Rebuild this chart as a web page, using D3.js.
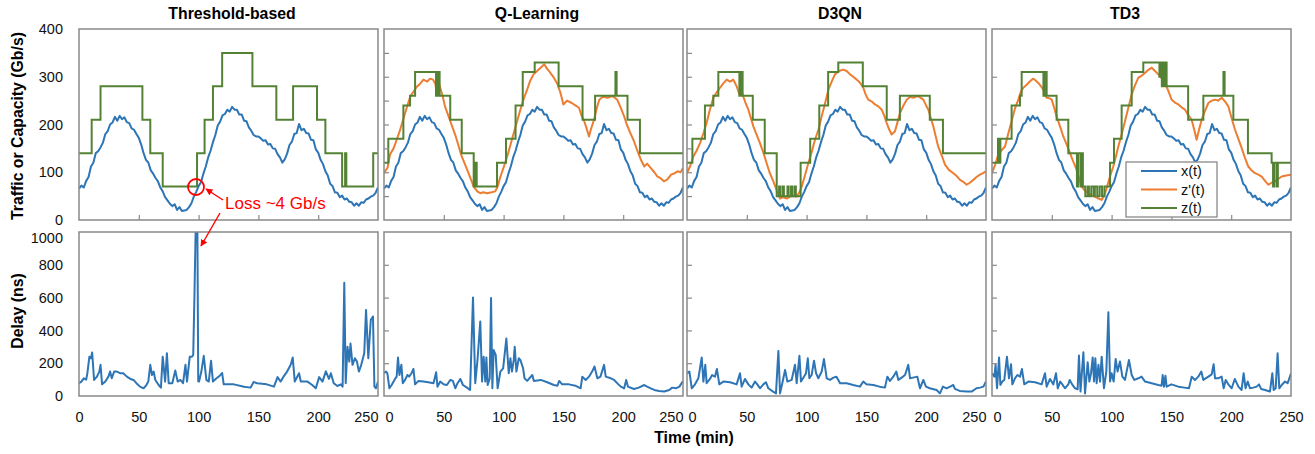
<!DOCTYPE html>
<html><head><meta charset="utf-8">
<script src="https://cdn.jsdelivr.net/npm/d3@7"></script>
<style>
body{margin:0;background:#fff;}
text{font-family:"Liberation Sans",Arial,sans-serif;}
</style></head>
<body>
<script>
// ---------- DATA ----------
const methods = ["Threshold-based","Q-Learning","D3QN","TD3"];
const timeTicks = [0,50,100,150,200,250];
const trafficTicks = [0,100,200,300,400];
const delayTicks = [0,200,400,600,800,1000];
const legendLabels = ["x(t)","z'(t)","z(t)"];
const annotationText = "Loss ~4 Gb/s";

// x(t) traffic, one value every 2 minutes (t = 0..250)
const trafficStep = 2;
const traffic = [66,72,68,82,90,112,120,140,144,152,162,180,186,200,204,216,208,218,211,215,
205,203,192,189,180,172,158,140,126,120,104,97,88,81,68,60,48,41,34,29,
33,21,27,19,20,21,27,35,49,59,71,79,97,112,131,145,163,178,198,206,
219,222,231,227,237,231,231,221,221,208,207,194,187,178,175,175,171,166,167,158,
159,150,149,138,131,120,127,139,157,164,180,182,201,188,191,182,181,168,167,148,
141,126,117,102,93,76,71,58,57,48,51,43,45,38,37,30,35,30,37,36,
43,45,49,51,57,68];

// z'(t) predicted demand [t, value]
const zPrimeQL = [[0,98],[3,110],[5,137],[8,150],[10.6,168],[13,185],[16,210],[19,235],[22,259],[25,270],[27.4,279],[30,285],[33,294],[36,290],[38.6,296],[41,294],[43,285],[44,263],[45.5,290],[47,277],[49,260],[51,238],[55,210],[60,175],[65,133],[70.7,98],[75,70],[78,60],[80.5,56],[83,58],[86,56],[90,58],[93,60],[95,70],[97,88],[100,110],[103,133],[108.5,182],[114,231],[117,255],[119.7,273],[122,290],[125,305],[128,312],[131,319],[134,326],[136,318],[138,312],[140,305],[142,298],[145,285],[147.6,266],[150,242],[153,250],[157,245],[160,240],[163,235],[165,220],[167,210],[169,195],[171.4,175],[173,190],[175.6,210],[178,235],[180,252],[183,258],[187,256],[191,260],[195,252],[198,235],[200.8,217],[203,200],[206,182],[209,165],[212,144],[215,125],[217.6,112],[220,118],[223,109],[226,100],[228.7,91],[231,88],[234,81],[237,85],[240,95],[243,98],[245.5,102],[248,100],[250,109]];
const zPrimeD3QN = [[0,98],[2.5,112],[5.3,133],[8,145],[10.9,161],[13.5,180],[16.4,203],[19,230],[22,256],[25,268],[27.6,277],[30,285],[33.2,294],[36,290],[38.7,294],[41.5,280],[43.8,263],[45,275],[47,259],[49,245],[51.3,231],[55.5,196],[58,180],[61,161],[64,140],[66.6,119],[69,100],[72.2,81],[75,62],[77.8,45],[80,48],[83.3,45],[87,50],[91.7,49],[94,58],[95.9,70],[98.5,92],[101.4,119],[104,140],[107,168],[110,190],[112.6,217],[115.5,245],[118.2,273],[121,290],[123.7,305],[127,312],[130.7,315],[133.5,312],[136.3,305],[139,300],[141.9,294],[144.5,288],[147.4,277],[149.5,262],[151.6,252],[154.5,248],[157.2,242],[160,238],[162.8,231],[165,218],[167,203],[169,190],[171.1,179],[173.9,186],[176,205],[178.1,224],[181,240],[183.7,252],[186.5,258],[189.2,256],[193,260],[197.6,252],[199.5,242],[201.8,231],[204,212],[206,196],[208,175],[210,154],[213,135],[215.7,116],[219,105],[222.7,98],[225.5,92],[228.3,84],[231,80],[233.8,74],[236.5,78],[239.4,84],[242,90],[245,95],[247.5,98],[250,102]];
const zPrimeTD3 = [[0,98],[2.5,115],[5.3,137],[8,146],[10.9,154],[13.5,180],[16.4,207],[19,232],[22,252],[24,268],[26.2,277],[28.5,282],[30.4,287],[32.5,292],[34.6,296],[36.5,292],[38.7,287],[41,280],[42.9,273],[44.3,262],[45.7,256],[48,255],[49.9,252],[52,235],[54,217],[57,195],[59.6,175],[62.5,158],[65.2,140],[68,122],[70.8,105],[73,86],[75,70],[77.5,62],[80.5,56],[83,52],[86.1,49],[89,45],[91.7,42],[94,52],[95.9,67],[98.5,90],[101.4,112],[103.5,132],[105.6,154],[108.5,180],[111.2,207],[114,235],[116.8,263],[119.5,282],[122.4,298],[125,302],[127.9,308],[130.5,314],[133.5,319],[136.3,312],[139.1,305],[142,296],[144.6,287],[147.5,270],[150.2,252],[153,246],[155.8,242],[158.5,236],[161.4,231],[164,220],[166.9,210],[169,190],[171.1,168],[173,188],[175.3,210],[178,228],[180.9,245],[183.7,250],[186.5,252],[189,250],[192,256],[195,248],[197.6,238],[200.5,212],[203.2,189],[206,170],[208.7,151],[211.5,130],[214.3,112],[217,104],[219.9,98],[222.7,95],[225.5,91],[228.3,82],[231,74],[233.8,78],[236.6,81],[239.4,86],[242.2,91],[246,93],[250,95]];

// z(t) allocated capacity, step change points [t, value]
const zThreshold = [[0,140],[10.6,210],[18,280],[53,210],[59.6,140],[70,70],[98.7,140],[105,210],[112,280],[119.7,350],[145,280],[165,210],[179,280],[199,210],[206,140],[220,70],[222.5,140],[223.5,70],[246,140],[250,140]];
const zQL = [[0,120],[3.6,170],[16.2,240],[21.8,260],[26,310],[43.5,260],[45,310],[46.5,260],[55.4,210],[65,140],[75,70],[76.5,120],[77.5,70],[94.5,120],[102,170],[110,240],[116,310],[126,330],[146,280],[166,210],[176.5,260],[193.5,310],[194.5,260],[203.6,210],[214,140],[250,140]];
const zD3QN = [[0,120],[4.5,170],[15,240],[22,260],[26.2,310],[43.8,260],[44.8,310],[46.5,260],[55,210],[65,140],[75,50],[77,70],[78,50],[80,70],[81,50],[84,70],[85,50],[87,70],[88,50],[90,70],[91,50],[95,120],[103,170],[110.6,240],[118,310],[126.5,330],[147,280],[167,210],[178,260],[203,210],[214,140],[250,140]];
const zTD3 = [[0,120],[5,170],[6,120],[7,170],[16.4,240],[23.4,260],[24.8,310],[43,260],[44,310],[45.7,260],[54,210],[63.8,140],[71,70],[72,140],[74,70],[75,140],[76,70],[78,50],[80,70],[81,50],[83,70],[85,50],[86,70],[88,50],[90,70],[92,50],[94,70],[98.7,120],[102,170],[108.4,240],[116.8,310],[126.5,330],[140,300],[141,330],[142,280],[143,330],[144,280],[144.8,330],[146,280],[164,210],[176.7,260],[193.5,310],[194.5,260],[201.8,210],[214,140],[233.8,120],[235,70],[236,120],[238,70],[239,120],[250,120]];

// Delay (ns) [t, value]
const delayThreshold = [[0,78],[2,88],[4,108],[6,100],[7,139],[8.7,240],[10,230],[11,265],[12.6,98],[15,118],[17,149],[18,190],[19.3,71],[22,88],[24.6,118],[26,149],[27.4,108],[29.4,149],[31.6,149],[34.4,139],[37,139],[40,118],[43,104],[45.6,98],[48,78],[51,57],[54,47],[56,63],[58,90],[59.6,190],[61,128],[62.4,149],[63.8,98],[66.6,67],[68.5,51],[70,240],[72,88],[73.5,260],[75,78],[78,78],[80.5,155],[82.5,88],[84.7,98],[87,78],[89,190],[90.3,88],[92.6,240],[94.5,240],[95.5,250],[96.5,600],[97.5,1000],[99,1000],[99.7,90],[100.4,88],[102.3,149],[104.3,245],[106.5,98],[108.5,88],[110.4,215],[112,88],[115,108],[117.7,124],[119.7,140],[121,71],[129.5,71],[138,57],[143.5,51],[146,85],[149,78],[157,71],[163,57],[166,115],[168.6,88],[171,118],[174,149],[177,190],[178.7,235],[180.4,88],[184,139],[185.4,88],[191,88],[195,67],[198,47],[200.8,115],[203.6,88],[206.4,150],[209,104],[210.6,139],[213,78],[216,61],[219,71],[220.4,57],[221.8,690],[223,78],[224.5,300],[226,210],[227,320],[228.7,190],[230.7,230],[232.4,210],[234,149],[236,190],[238.5,261],[240,525],[241.9,230],[244,465],[245.8,485],[247,57],[248.3,47],[250,88]];
const delayQL = [[0,139],[1.7,149],[2.8,139],[4.5,47],[6.4,67],[9.2,104],[10.6,118],[11.7,235],[12.9,128],[14.5,190],[15.7,78],[17.6,98],[19.6,128],[21,118],[23,139],[24.6,165],[26,71],[28.8,92],[33,88],[37,84],[41.4,78],[43.6,145],[44.7,57],[47,88],[49.8,71],[52.6,67],[55.4,98],[57.6,92],[59.6,47],[61.5,78],[63.8,104],[66,67],[69.4,51],[72,37],[74.4,600],[76.3,78],[78.3,230],[80.5,455],[82,88],[83.3,240],[84.7,88],[85.6,235],[86.7,67],[88.4,108],[89.5,598],[90.6,47],[91.7,280],[93.4,251],[95,47],[97.3,149],[99.6,169],[102.3,350],[104.3,139],[105.7,230],[107,149],[108.5,220],[109.3,300],[110.7,149],[112.7,230],[114,220],[116.3,169],[117.5,108],[119.7,92],[124,128],[125.3,92],[131,98],[136.5,84],[142,67],[145,63],[146.5,92],[149,71],[154.6,71],[160,63],[164.4,47],[165.8,118],[168.6,98],[171.4,118],[174,149],[176,180],[178.4,108],[181,118],[184,190],[185.4,118],[189.6,108],[192.4,98],[196,71],[198,57],[200.8,47],[202.5,98],[204,57],[209,43],[213,51],[217.6,67],[220,57],[223,47],[226,37],[230,31],[234.3,27],[238.5,37],[241,51],[244,47],[247,57],[250,92]];
const delayD3QN = [[0,139],[2,149],[4,47],[6.7,71],[9.5,108],[12.3,235],[13.7,88],[15.3,190],[16.4,78],[19.2,104],[21,128],[23.4,118],[25,165],[27,71],[30.4,88],[36,84],[41.5,71],[44.3,139],[45.7,57],[48.5,104],[51.3,71],[54,51],[56.9,88],[58.8,71],[61,47],[63.8,71],[66,84],[68,47],[72,27],[74.4,16],[76.4,275],[77.8,16],[80,88],[82,159],[83.9,88],[87.5,98],[90.3,190],[91.7,78],[94,245],[95.3,88],[97.8,118],[99.5,139],[101,230],[102.3,108],[104.2,128],[106.2,215],[107.9,139],[109.8,108],[112.6,149],[114.5,225],[116.8,108],[119.6,98],[122.4,112],[125,118],[128,78],[133.5,78],[139,67],[144.6,57],[147.4,88],[150,71],[155.8,67],[161,57],[165.5,51],[167.5,118],[169.7,92],[172.5,118],[175,149],[176.7,98],[179.5,112],[182.3,128],[185,190],[186.5,108],[189,112],[192.6,118],[194.8,47],[197.6,98],[199.8,57],[203,47],[208.7,37],[211.5,16],[214,57],[217,47],[220,57],[222.7,67],[224,43],[228,31],[234,27],[238,27],[242,47],[245,51],[247.8,57],[250,88]];
const delayTD3 = [[0,139],[2,118],[3,190],[4.2,47],[5.9,235],[7,67],[8.6,88],[10.3,98],[12.5,240],[14.2,108],[15.9,194],[17,71],[19.2,108],[21.2,128],[23.4,118],[25,165],[27,71],[30.4,88],[36,84],[41.5,71],[44.3,139],[45.7,57],[48.5,104],[51.3,71],[53.5,139],[55,47],[57,88],[58.8,71],[61,47],[63.8,71],[65,98],[67,71],[69.4,47],[71.6,41],[72.7,247],[74,27],[76.4,267],[77.8,16],[80,206],[81.4,88],[82.8,139],[84.2,235],[85.3,88],[86.4,230],[87.5,78],[89,190],[90.3,88],[91.7,240],[93.6,47],[95.6,149],[97.3,510],[98.7,88],[100,139],[101.7,88],[103.4,226],[105,149],[107,210],[109,118],[111.2,98],[114.5,220],[116.8,128],[119,98],[122.4,108],[125,118],[128,88],[133.5,78],[139,67],[141.8,63],[142.7,128],[143.8,57],[145,124],[146,57],[150,71],[155.8,57],[161,51],[164.7,47],[167,118],[169.7,98],[172.5,118],[175,149],[176.7,98],[180.9,118],[183.7,132],[185.3,194],[186.5,108],[189,108],[192,118],[193.7,47],[195.4,98],[197.6,71],[200.4,47],[203,104],[206,57],[208.7,37],[210.4,139],[212,47],[213.8,88],[215.7,47],[218.5,51],[221.3,57],[223.2,71],[225,43],[228.3,37],[232.4,27],[234.4,139],[235.5,37],[237.2,47],[238.8,260],[240.2,47],[242.2,67],[245,88],[247.2,78],[250,139]];

const zSeries = [zThreshold, zQL, zD3QN, zTD3];
const zPrimeSeries = [null, zPrimeQL, zPrimeD3QN, zPrimeTD3];
const delaySeries = [delayThreshold, delayQL, delayD3QN, delayTD3];

// ---------- LAYOUT ----------
const W = 1315, H = 454;
const panelLefts = [79, 384, 687, 992];
const panelW = 299;
const titleX = [232, 537, 840, 1125];
const topP = {y0: 29, y1: 220};
const botP = {y0: 232, y1: 396};
const colBlue = "#2E75B6", colOrange = "#ED7D31", colGreen = "#548235";
const borderCol = "#898989";
const FS = 14.5;
const fmt = d3.format("d");

const svg = d3.select("body").append("svg").attr("width", W).attr("height", H);
const defs = svg.append("defs");
defs.append("marker").attr("id","arrowRed").attr("viewBox","0 0 10 10")
  .attr("refX",9).attr("refY",5).attr("markerWidth",5).attr("markerHeight",5)
  .attr("orient","auto").attr("markerUnits","strokeWidth")
  .append("path").attr("d","M0,0 L10,5 L0,10 z").attr("fill","#ff0000");

const traffPts = traffic.map((v,i)=>[i*trafficStep, v]);

methods.forEach((m, k) => {
  const L = panelLefts[k], R = L + panelW;
  const x = d3.scaleLinear().domain([0,250]).range([L, R]);
  const yT = d3.scaleLinear().domain([0,400]).range([topP.y1, topP.y0]);
  const yB = d3.scaleLinear().domain([0,1000]).range([botP.y1, botP.y0]);

  defs.append("clipPath").attr("id","ct"+k).append("rect")
    .attr("x",L).attr("y",topP.y0).attr("width",panelW).attr("height",topP.y1-topP.y0);
  defs.append("clipPath").attr("id","cb"+k).append("rect")
    .attr("x",L).attr("y",botP.y0).attr("width",panelW).attr("height",botP.y1-botP.y0);

  svg.append("text").attr("x", titleX[k]).attr("y", 19).attr("text-anchor","middle")
    .attr("font-weight","bold").attr("font-size",15.8).attr("fill","#000").text(m);

  // ---- top panel ----
  const gT = svg.append("g").attr("clip-path","url(#ct"+k+")");
  const lineT = d3.line().x(d=>x(d[0])).y(d=>yT(d[1]));
  const stepT = d3.line().curve(d3.curveStepAfter).x(d=>x(d[0])).y(d=>yT(d[1]));
  gT.append("path").datum(traffPts).attr("d", lineT).attr("fill","none")
    .attr("stroke", colBlue).attr("stroke-width",2).attr("stroke-linejoin","round");
  if (zPrimeSeries[k]) {
    gT.append("path").datum(zPrimeSeries[k]).attr("d", lineT).attr("fill","none")
      .attr("stroke", colOrange).attr("stroke-width",2).attr("stroke-linejoin","round");
  }
  gT.append("path").datum(zSeries[k]).attr("d", stepT).attr("fill","none")
    .attr("stroke", colGreen).attr("stroke-width",2);

  // ---- bottom panel ----
  const gB = svg.append("g").attr("clip-path","url(#cb"+k+")");
  const lineB = d3.line().x(d=>x(d[0])).y(d=>yB(d[1]));
  gB.append("path").datum(delaySeries[k]).attr("d", lineB).attr("fill","none")
    .attr("stroke", colBlue).attr("stroke-width",2).attr("stroke-linejoin","round");

  // ---- axes / ticks ----
  const axTopTicks = svg.append("g").attr("transform",`translate(0,${topP.y1})`)
    .call(d3.axisTop(x).tickValues(timeTicks.slice(1,-1)).tickSize(5).tickFormat(""));
  axTopTicks.select(".domain").remove();
  axTopTicks.selectAll("line").attr("stroke", borderCol).attr("stroke-width",1.2);

  if (k === 0) {
    const ayT = svg.append("g").attr("transform",`translate(${L},0)`)
      .call(d3.axisLeft(yT).tickValues(trafficTicks).tickFormat(fmt).tickSize(0).tickPadding(16));
    ayT.select(".domain").remove();
    ayT.selectAll("text").attr("font-size",FS).attr("fill","#111")
      .style("font-family",'"Liberation Sans",Arial,sans-serif');
    const ayB = svg.append("g").attr("transform",`translate(${L},0)`)
      .call(d3.axisLeft(yB).tickValues(delayTicks).tickFormat(fmt).tickSize(0).tickPadding(16));
    ayB.select(".domain").remove();
    ayB.selectAll("text").attr("font-size",FS).attr("fill","#111")
      .style("font-family",'"Liberation Sans",Arial,sans-serif');
    ayB.selectAll(".tick").filter(d=>d===1000).select("text").attr("dy","0.75em");
  } else {
    const tickT = k === 3 ? [100,200,300] : [50,100,150,200,250,300,350];
    const ayT = svg.append("g").attr("transform",`translate(${L},0)`)
      .call(d3.axisRight(yT).tickValues(tickT).tickSize(5).tickFormat(""));
    ayT.select(".domain").remove();
    ayT.selectAll("line").attr("stroke", borderCol).attr("stroke-width",1.2);
    const ayB = svg.append("g").attr("transform",`translate(${L},0)`)
      .call(d3.axisRight(yB).tickValues([200,400,600,800]).tickSize(5).tickFormat(""));
    ayB.select(".domain").remove();
    ayB.selectAll("line").attr("stroke", borderCol).attr("stroke-width",1.2);
  }

  const ax = svg.append("g").attr("transform",`translate(0,${botP.y1})`)
    .call(d3.axisBottom(x).tickValues(timeTicks).tickFormat(fmt).tickSize(0).tickPadding(16));
  ax.select(".domain").remove();
  ax.selectAll("text").attr("font-size",FS).attr("fill","#111")
    .style("font-family",'"Liberation Sans",Arial,sans-serif');
  if (k > 0) ax.selectAll(".tick").filter(d=>d===0).select("text").attr("text-anchor","start").attr("x",1);
  if (k < 3) ax.selectAll(".tick").filter(d=>d===250).select("text").attr("text-anchor","end");

  svg.append("rect").attr("x",L).attr("y",topP.y0).attr("width",panelW).attr("height",topP.y1-topP.y0)
    .attr("fill","none").attr("stroke",borderCol).attr("stroke-width",1.5);
  svg.append("rect").attr("x",L).attr("y",botP.y0).attr("width",panelW).attr("height",botP.y1-botP.y0)
    .attr("fill","none").attr("stroke",borderCol).attr("stroke-width",1.5);

  if (k === 3) {
    const lg = svg.append("g");
    lg.append("rect").attr("x",1126).attr("y",162).attr("width",91).attr("height",55)
      .attr("fill","#fff").attr("stroke",borderCol).attr("stroke-width",1.3);
    const cols = [colBlue, colOrange, colGreen];
    legendLabels.forEach((lab,i)=>{
      const yy = 171 + i*18.5;
      lg.append("line").attr("x1",1141).attr("x2",1177).attr("y1",yy).attr("y2",yy)
        .attr("stroke",cols[i]).attr("stroke-width",2);
      lg.append("text").attr("x",1181).attr("y",yy).attr("dy","0.35em")
        .attr("font-size",FS).attr("fill","#111").text(lab);
    });
  }
});

svg.append("text").attr("transform","translate(23,126) rotate(-90)").attr("text-anchor","middle")
  .attr("font-weight","bold").attr("font-size",15.8).attr("fill","#000").text("Traffic or Capacity (Gb/s)");
svg.append("text").attr("transform","translate(23,311) rotate(-90)").attr("text-anchor","middle")
  .attr("font-weight","bold").attr("font-size",15.8).attr("fill","#000").text("Delay (ns)");
svg.append("text").attr("x",694).attr("y",443).attr("text-anchor","middle")
  .attr("font-weight","bold").attr("font-size",15.8).attr("fill","#000").text("Time (min)");

svg.append("circle").attr("cx",196).attr("cy",187).attr("r",8)
  .attr("fill","none").attr("stroke","#ff0000").attr("stroke-width",1.8);
svg.append("text").attr("x",225).attr("y",209).attr("font-size",17).attr("fill","#ff0000").text(annotationText);
svg.append("line").attr("x1",223).attr("y1",200).attr("x2",206).attr("y2",189)
  .attr("stroke","#ff0000").attr("stroke-width",1.4).attr("marker-end","url(#arrowRed)");
svg.append("line").attr("x1",220).attr("y1",213).attr("x2",201).attr("y2",246)
  .attr("stroke","#ff0000").attr("stroke-width",1.4).attr("marker-end","url(#arrowRed)");
</script>
</body></html>
